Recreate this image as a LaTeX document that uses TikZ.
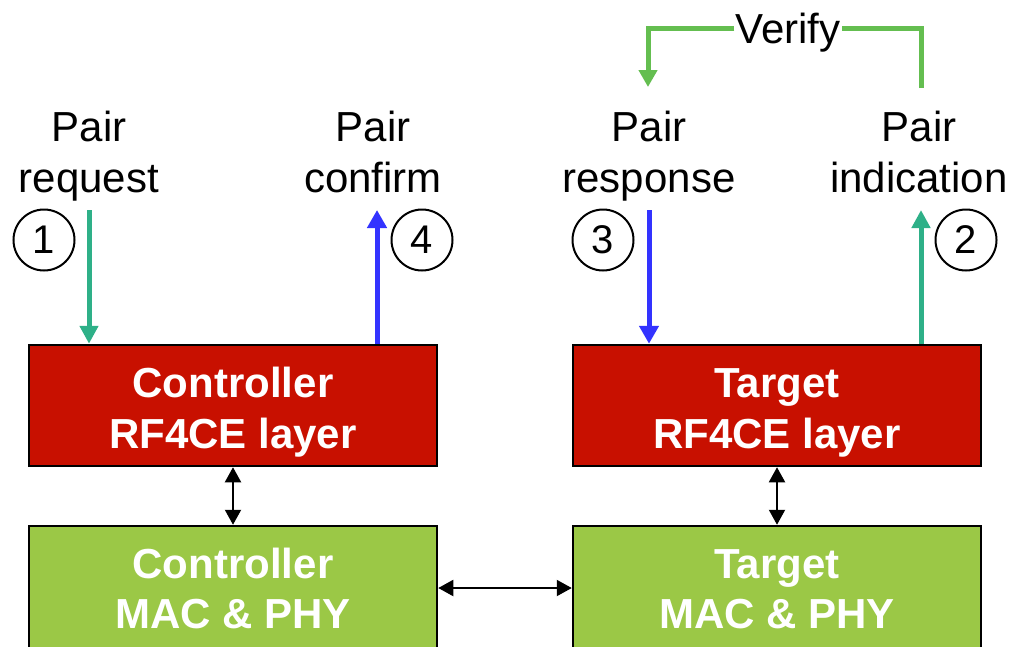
\documentclass[tikz,border=0pt]{standalone}
\usepackage{fontspec}
\setmainfont{Liberation Sans}
\usetikzlibrary{arrows.meta}
\definecolor{rfred}{RGB}{200,16,0}
\definecolor{macgreen}{RGB}{155,200,70}
\definecolor{pairgreen}{RGB}{46,176,136}
\definecolor{pairblue}{RGB}{51,51,255}
\definecolor{verifygreen}{RGB}{100,190,80}
\begin{document}
\begin{tikzpicture}[x=1pt,y=-1pt,
  lbl/.style={font=\fontsize{42}{51}\selectfont, inner sep=0pt, anchor=base},
  boxlbl/.style={font=\fontsize{42}{51}\selectfont\bfseries, text=white, inner sep=0pt, anchor=base},
  layerbox/.style={draw=black, line width=2.5pt, fill=rfred, minimum width=408pt, minimum height=121pt, inner sep=0pt},
  macbox/.style={draw=black, line width=2.5pt, fill=macgreen, minimum width=408pt, minimum height=154pt, inner sep=0pt},
  numcirc/.style={circle, draw=black, line width=2pt, minimum size=61pt, inner sep=0pt, font=\fontsize{40}{48}\selectfont},
  dbl/.style={line width=2pt, {Triangle[length=15pt,width=16pt]}-{Triangle[length=15pt,width=16pt]}},
  greenarr/.style={line width=5pt, draw=pairgreen, -{Triangle[length=18pt,width=18pt]}},
  bluearr/.style={line width=5pt, draw=pairblue, -{Triangle[length=18pt,width=19pt]}},
  verifyline/.style={line width=5pt, draw=verifygreen}
]
\clip (0,0) rectangle (1016,646);
\useasboundingbox (0,0) rectangle (1016,646);

% protocol layers
\node[layerbox] (crf) at (233,405.5) {};
\node[layerbox] (trf) at (777,405.5) {};
\node[macbox] (cmac) at (233,603) {};
\node[macbox] (tmac) at (777,603) {};

\node[boxlbl] (crf1) at (233,397) {Controller};
\node[boxlbl] (crf2) at (233,448) {RF4CE layer};
\node[boxlbl] (trf1) at (777,397) {Target};
\node[boxlbl] (trf2) at (777,448) {RF4CE layer};
\node[boxlbl] (cmac1) at (233,578) {Controller};
\node[boxlbl] (cmac2) at (233,628) {MAC \& PHY};
\node[boxlbl] (tmac1) at (777,578) {Target};
\node[boxlbl] (tmac2) at (777,628) {MAC \& PHY};

% links between layers
\coordinate (hy) at (0,588);
\draw[dbl] (crf.south) -- (cmac.north);
\draw[dbl] (trf.south) -- (tmac.north);
\draw[dbl] (cmac.east |- hy) -- (tmac.west |- hy);

% primitive labels
\node[lbl] (req1) at (89,141) {Pair};
\node[lbl] (req2) at (89,192) {request};
\node[lbl] (cnf1) at (373,141) {Pair};
\node[lbl] (cnf2) at (373,192) {confirm};
\node[lbl] (rsp1) at (649,141) {Pair};
\node[lbl] (rsp2) at (649,192) {response};
\node[lbl] (ind1) at (919,141) {Pair};
\node[lbl] (ind2) at (919,192) {indication};

% primitive arrows
\coordinate (a1) at (89,210);
\coordinate (a4) at (377,210);
\coordinate (a3) at (649,210);
\coordinate (a2) at (921,210);
\draw[greenarr] (a1) -- (a1 |- crf.north);
\draw[bluearr] (a4 |- crf.north) -- (a4);
\draw[bluearr] (a3) -- (a3 |- trf.north);
\draw[greenarr] (a2 |- trf.north) -- (a2);

% step numbers
\node[numcirc] (n1) at (44,240) {1};
\node[numcirc] (n4) at (422,240) {4};
\node[numcirc] (n3) at (603,240) {3};
\node[numcirc] (n2) at (966,240) {2};

% verify loop
\node[lbl, inner xsep=1pt] (verify) at (788,43) {Verify};
\coordinate (vy) at (0,28);
\coordinate (vs) at (921,88);
\coordinate (ve) at (648,87);
\draw[verifyline] (vs) -- (vs |- vy) -- (verify.east |- vy);
\draw[verifyline, -{Triangle[length=17pt,width=18pt]}] (verify.west |- vy) -- (ve |- vy) -- (ve);
\end{tikzpicture}
\end{document}
